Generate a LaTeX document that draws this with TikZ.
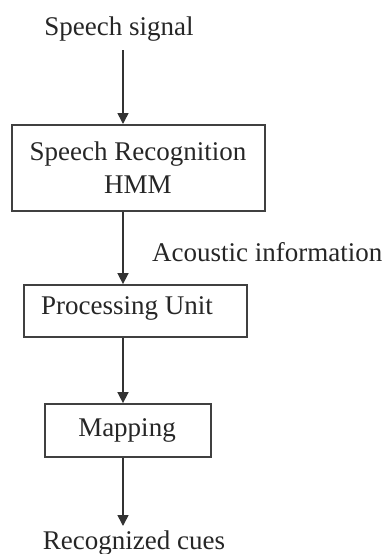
\documentclass[tikz,border=0pt]{standalone}
\usepackage{fontspec}
\setmainfont{Liberation Serif}
\usetikzlibrary{arrows.meta}
\begin{document}
\begin{tikzpicture}[x=1pt,y=-1pt,
  lbl/.style={inner sep=0pt, font=\fontsize{27}{32}\selectfont, text=black!85},
  blk/.style={draw=black!75, line width=1.8pt, inner sep=0pt},
  flow/.style={draw=black!80, line width=1.6pt, -{Triangle[width=11pt,length=11pt]}}]
  \useasboundingbox (0,0) rectangle (386,554);
  % input label
  \node[lbl] (sig) at (119,29) {Speech signal};
  % processing blocks
  \node[blk, minimum width=253pt, minimum height=86pt] (hmm) at (138.5,168) {};
  \node[lbl] (hmmA) at (138,154) {Speech Recognition};
  \node[lbl] (hmmB) at (138,185) {HMM};
  \node[blk, minimum width=223pt, minimum height=52pt] (proc) at (135.5,311) {};
  \node[lbl] (procT) at (127,308) {Processing Unit};
  \node[blk, minimum width=166pt, minimum height=53pt] (map) at (128,430.5) {};
  \node[lbl] (mapT) at (127,430) {Mapping};
  % output label
  \node[lbl] (cues) at (134,543) {Recognized cues};
  \node[lbl, anchor=west] (ac) at (152,252) {Acoustic information};
  % connectors
  \coordinate (a1s) at (123,50);
  \coordinate (a1e) at (123,124);
  \draw[flow] (a1s) -- (a1e);
  \draw[flow] (hmm.south -| a1s) -- (proc.north -| a1s);
  \draw[flow] (proc.south -| a1s) -- (map.north -| a1s);
  \coordinate (a4e) at (123,526);
  \draw[flow] (map.south -| a1s) -- (a4e);
\end{tikzpicture}
\end{document}
